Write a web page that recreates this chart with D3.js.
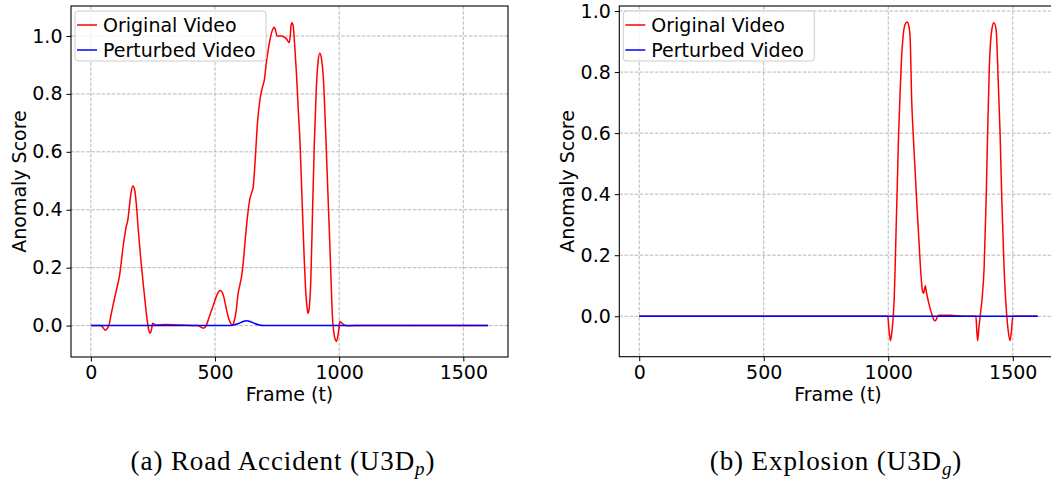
<!DOCTYPE html>
<html>
<head>
<meta charset="utf-8">
<script src="https://cdn.jsdelivr.net/npm/d3@7"></script>
<style>
  body { margin: 0; background: white; }
</style>
</head>
<body>
<svg id="mainSvg" width="1051" height="480" font-family="DejaVu Sans, sans-serif"></svg>
<script>
// ---- data ----
// (a) Road Accident
var accidentFrames = [0, 40, 50, 58, 66, 72, 82, 91, 102, 115, 131, 142, 149, 155, 162, 169, 176, 183, 191, 200, 212, 220, 225, 232, 239, 244, 249, 254, 262, 300, 360, 430, 445, 453, 460, 467, 475, 485, 497, 510, 520, 527, 535, 545, 555, 563, 570, 577, 585, 593, 600, 607, 614, 621, 630, 641, 648, 654, 661, 671, 681, 690, 699, 707, 714, 722, 729, 739, 745, 750, 768, 788, 799, 803, 806, 810, 815, 820, 828, 835, 842, 850, 858, 866, 871, 875, 880, 886, 893, 900, 908, 915, 922, 929, 936, 946, 955, 962, 968, 973, 978, 983, 989, 995, 1000, 1003, 1009, 1016, 1025, 1040, 1060, 1600];
var accidentOriginal = [0, 0, -0.008, -0.016, -0.01, 0.0, 0.04, 0.077, 0.12, 0.17, 0.28, 0.34, 0.365, 0.41, 0.46, 0.482, 0.47, 0.42, 0.33, 0.24, 0.135, 0.07, 0.031, -0.01, -0.026, -0.015, 0.008, 0.006, 0.002, 0.004, 0.002, 0.0, -0.006, -0.009, -0.006, 0.005, 0.025, 0.05, 0.08, 0.11, 0.121, 0.118, 0.1, 0.06, 0.025, 0.008, 0.002, 0.015, 0.05, 0.11, 0.14, 0.17, 0.22, 0.29, 0.37, 0.44, 0.46, 0.48, 0.56, 0.70, 0.78, 0.82, 0.85, 0.91, 0.95, 0.99, 1.015, 1.03, 1.015, 1.0, 1.0, 0.99, 0.977, 1.0, 1.035, 1.046, 1.035, 0.98, 0.87, 0.75, 0.64, 0.45, 0.26, 0.11, 0.06, 0.042, 0.065, 0.16, 0.40, 0.63, 0.82, 0.91, 0.94, 0.92, 0.86, 0.66, 0.45, 0.29, 0.14, 0.03, -0.02, -0.045, -0.055, -0.035, -0.005, 0.014, 0.01, 0.005, 0.0, -0.001, 0, 0];
var accidentPerturbedFrames = [0, 554, 575, 595, 612, 627, 642, 660, 678, 692, 1600];
var accidentPerturbed = [0, 0, 0.002, 0.007, 0.014, 0.017, 0.014, 0.007, 0.002, 0, 0];

// (b) Explosion
var explosionFrames = [0, 998, 1003, 1009, 1014, 1020, 1024, 1028, 1032, 1036, 1041, 1047, 1053, 1060, 1067, 1076, 1083, 1088, 1094, 1100, 1107, 1114, 1123, 1131, 1138, 1142, 1146, 1149, 1152, 1157, 1163, 1170, 1178, 1183, 1188, 1193, 1198, 1205, 1250, 1300, 1352, 1355, 1359, 1363, 1369, 1377, 1385, 1393, 1399, 1406, 1416, 1424, 1433, 1442, 1449, 1456, 1465, 1476, 1482, 1489, 1495, 1500, 1600];
var explosionOriginal = [0, 0, -0.045, -0.08, -0.055, 0.0, 0.06, 0.17, 0.30, 0.42, 0.58, 0.72, 0.84, 0.92, 0.955, 0.964, 0.95, 0.91, 0.71, 0.6, 0.49, 0.38, 0.25, 0.14, 0.08, 0.075, 0.09, 0.1, 0.085, 0.064, 0.042, 0.02, 0.0, -0.012, -0.015, -0.01, 0.0, 0.003, 0.003, 0.0, 0.0, -0.04, -0.08, -0.045, 0.0, 0.06, 0.16, 0.38, 0.6, 0.82, 0.94, 0.962, 0.94, 0.76, 0.6, 0.38, 0.16, 0.0, -0.05, -0.08, -0.045, 0.0, 0];
var explosionPerturbedFrames = [0, 1600];
var explosionPerturbed = [0, 0];

var xTicks = [0, 500, 1000, 1500];
var yTicks = [0.0, 0.2, 0.4, 0.6, 0.8, 1.0];
var seriesNames = ["Original Video", "Perturbed Video"];
var seriesColors = ["#ff0000", "#0000ff"];

var fontSize = 19;

function drawPanel(svg, box, xDomain, yDomain, original, perturbed, caption, subscript)
{
    const g = svg.append("g");
    const xScale = d3.scaleLinear().domain(xDomain).range([box.left, box.right]);
    const yScale = d3.scaleLinear().domain(yDomain).range([box.bottom, box.top]);

    const clipId = "clip" + Math.round(box.left);
    g.append("clipPath").attr("id", clipId)
        .append("rect")
        .attr("x", box.left).attr("y", box.top)
        .attr("width", box.right - box.left).attr("height", box.bottom - box.top);

    // grid
    const grid = g.append("g").attr("clip-path", `url(#${clipId})`);
    grid.selectAll(".gx").data(xTicks).join("line")
        .attr("x1", d => xScale(d)).attr("x2", d => xScale(d))
        .attr("y1", box.top).attr("y2", box.bottom)
        .attr("stroke", "#b0b0b0").attr("stroke-width", 0.9).attr("stroke-dasharray", "3.5,1.6");
    grid.selectAll(".gy").data(yTicks).join("line")
        .attr("y1", d => yScale(d)).attr("y2", d => yScale(d))
        .attr("x1", box.left).attr("x2", box.right)
        .attr("stroke", "#b0b0b0").attr("stroke-width", 0.9).attr("stroke-dasharray", "3.5,1.6");

    // lines
    const line = d3.line()
        .x(d => xScale(d[0]))
        .y(d => yScale(d[1]))
        .curve(d3.curveMonotoneX);
    const lines = g.append("g").attr("clip-path", `url(#${clipId})`);
    [original, perturbed].forEach((s, i) => {
        lines.append("path")
            .datum(d3.zip(s.frames, s.values))
            .attr("d", line)
            .attr("fill", "none")
            .attr("stroke", seriesColors[i])
            .attr("stroke-width", 1.5);
    });

    // axes
    const xAxis = d3.axisBottom(xScale).tickValues(xTicks).tickSize(4.5).tickPadding(4).tickFormat(d3.format("d"));
    const yAxis = d3.axisLeft(yScale).tickValues(yTicks).tickSize(4.5).tickPadding(4).tickFormat(d3.format(".1f"));
    const xg = g.append("g").attr("transform", `translate(0, ${box.bottom})`).call(xAxis);
    const yg = g.append("g").attr("transform", `translate(${box.left}, 0)`).call(yAxis);
    [xg, yg].forEach(a => {
        a.attr("font-family", null);
        a.select(".domain").remove();
        a.selectAll("text").attr("font-size", fontSize).attr("fill", "black");
        a.selectAll("line").attr("stroke", "black").attr("stroke-width", 1);
    });

    // frame
    g.append("rect")
        .attr("x", box.left).attr("y", box.top)
        .attr("width", box.right - box.left).attr("height", box.bottom - box.top)
        .attr("fill", "none").attr("stroke", "black").attr("stroke-width", 1.1);

    // axis titles
    g.append("text")
        .text("Frame (t)")
        .attr("x", Math.min((box.left + box.right) / 2, 838))
        .attr("y", box.bottom + 44)
        .attr("text-anchor", "middle")
        .attr("font-size", fontSize);
    g.append("text")
        .text("Anomaly Score")
        .attr("transform", `translate(${box.left - 45}, ${(box.top + box.bottom) / 2}) rotate(-90)`)
        .attr("text-anchor", "middle")
        .attr("font-size", fontSize);

    // legend
    const lg = g.append("g").attr("transform", `translate(${box.left + 4}, ${box.top + 5})`);
    lg.append("rect")
        .attr("width", 191).attr("height", 50).attr("rx", 3)
        .attr("fill", "white").attr("fill-opacity", 0.8)
        .attr("stroke", "#cccccc").attr("stroke-width", 1);
    seriesNames.forEach((name, i) => {
        const y = 14 + i * 25;
        lg.append("line")
            .attr("x1", 2).attr("x2", 22).attr("y1", y).attr("y2", y)
            .attr("stroke", seriesColors[i]).attr("stroke-width", 1.5);
        lg.append("text")
            .text(name)
            .attr("x", 28).attr("y", y + 7)
            .attr("font-size", fontSize);
    });

    // caption
    const cap = svg.append("text")
        .attr("x", caption.x).attr("y", 470)
        .attr("text-anchor", "middle")
        .attr("font-family", "Liberation Serif, serif")
        .attr("font-size", 27)
        .attr("letter-spacing", 0.9);
    cap.append("tspan").text(caption.text);
    cap.append("tspan").text(subscript).attr("font-style", "italic").attr("font-size", 19).attr("dy", 5);
    cap.append("tspan").text(")").attr("dy", -5);
}

function drawFigure()
{
    const svg = d3.select("#mainSvg");
    svg.append("rect").attr("width", 1051).attr("height", 480).attr("fill", "white");

    drawPanel(svg, {left: 71, right: 508, top: 6, bottom: 357},
        [-80, 1680], [-0.1085, 1.1035],
        {frames: accidentFrames, values: accidentOriginal},
        {frames: accidentPerturbedFrames, values: accidentPerturbed},
        {x: 283, text: "(a) Road Accident (U3D"}, "p");

    drawPanel(svg, {left: 619.3, right: 1057.6, top: 6, bottom: 356.7},
        [-80, 1680], [-0.1325, 1.0165],
        {frames: explosionFrames, values: explosionOriginal},
        {frames: explosionPerturbedFrames, values: explosionPerturbed},
        {x: 836, text: "(b) Explosion (U3D"}, "g");
}

window.addEventListener("load", drawFigure);
</script>
</body>
</html>
